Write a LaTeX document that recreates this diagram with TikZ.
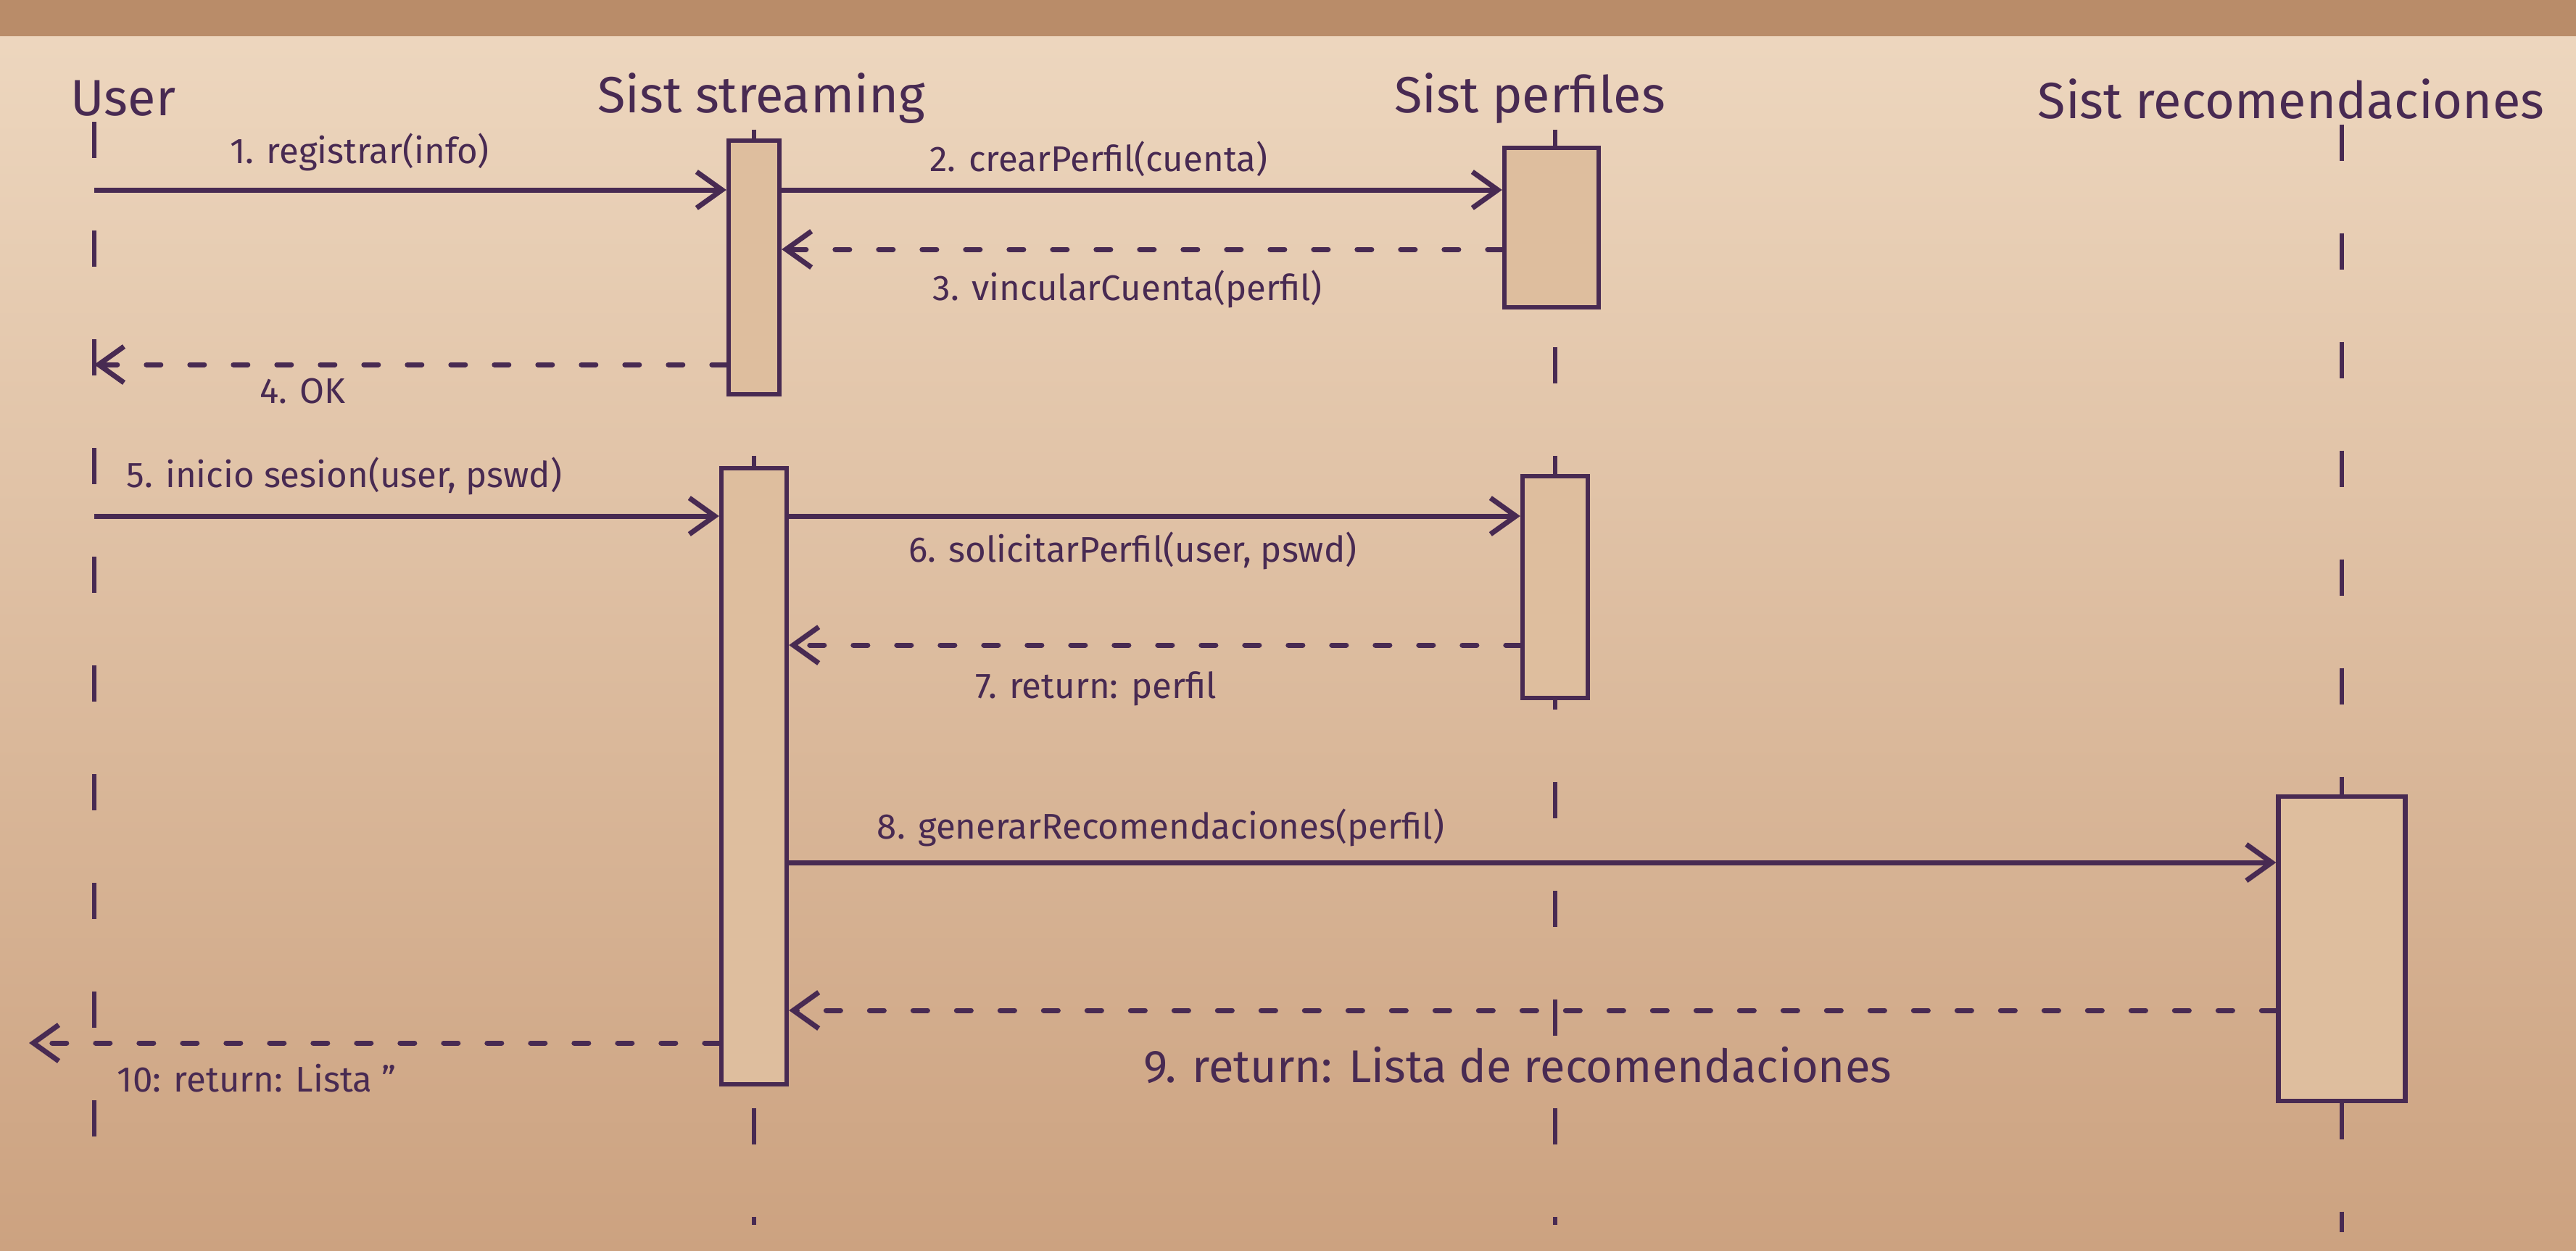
\documentclass[tikz,border=0pt]{standalone}
\usepackage{fontspec}
\setmainfont{Fira Sans}
\usepackage{xcolor}
\usepackage{tikz}
\usetikzlibrary{arrows.meta,positioning,calc}

\definecolor{board}{RGB}{222,190,158}
\definecolor{boardtop}{RGB}{238,216,192}
\definecolor{boardbot}{RGB}{204,162,128}
\definecolor{frame}{RGB}{185,140,105}
\definecolor{ink}{RGB}{72,42,82}

\begin{document}
\begin{tikzpicture}[
  actor/.style={font=\fontsize{20}{24}\selectfont, text=ink, inner sep=2pt},
  actbox/.style={draw=ink, line width=1.8pt, fill=board, inner sep=0pt},
  life/.style={draw=ink, line width=1.6pt, dash pattern=on 5mm off 10mm},
  msg/.style={-{Straight Barb[length=3.5mm,width=5mm]}, line width=2pt, ink},
  ret/.style={-{Straight Barb[length=3.5mm,width=5mm]}, line width=2pt, ink,
              dash pattern=on 2mm off 4mm, line cap=round},
  lbl/.style={font=\fontsize{14}{17}\selectfont, text=ink}
]

\shade[top color=boardtop, bottom color=boardbot] (0,0) rectangle (35.53,-17.25);
\fill[frame] (0,0) rectangle (35.53,-0.5);
\useasboundingbox (0,0) rectangle (35.53,-17.25);

\node[actor, anchor=west] (user) at (0.9,-1.36) {User};
\node[actor] (strm) at (10.5,-1.36) {Sist streaming};
\node[actor] (perf) at (21.1,-1.36) {Sist perfiles};
\node[actor] (reco) at (31.6,-1.36) {Sist recomendaciones};

\coordinate (uend) at (1.3,-16.0);
\coordinate (send) at (10.4,-16.9);
\coordinate (pend) at (21.45,-16.9);
\coordinate (rend) at (32.3,-17.0);

\draw[life] (user.south -| uend) -- (uend);
\draw[life] (strm.south -| send) -- (send);
\draw[life] (perf.south -| pend) -- (pend);
\draw[life] (reco.south -| rend) -- (rend);

\node[actbox, minimum width=0.7cm, minimum height=3.5cm] (s1) at (10.4,-3.69) {};
\node[actbox, minimum width=0.9cm, minimum height=8.5cm] (s2) at (10.4,-10.71) {};
\node[actbox, minimum width=1.3cm, minimum height=2.2cm] (p1) at (21.4,-3.14) {};
\node[actbox, minimum width=0.9cm, minimum height=3.06cm] (p2) at (21.45,-8.1) {};
\node[actbox, minimum width=1.75cm, minimum height=4.2cm] (r1) at (32.3,-13.09) {};

\coordinate (m1) at (0,-2.62);
\coordinate (m3) at (0,-3.44);
\coordinate (m4) at (0,-5.03);
\coordinate (m5) at (0,-7.12);
\coordinate (m7) at (0,-8.9);
\coordinate (m8) at (0,-11.9);
\coordinate (m9) at (0,-13.94);
\coordinate (m10) at (0,-14.39);

\draw[msg] (uend |- m1) -- node[lbl, above=3pt, pos=.42] {1. registrar(info)} (s1.west |- m1);
\draw[msg] (s1.east |- m1) -- node[lbl, above=1pt, pos=.44] {2. crearPerfil(cuenta)} (p1.west |- m1);
\draw[ret] (p1.west |- m3) -- node[lbl, below=4pt, pos=.52] {3. vincularCuenta(perfil)} (s1.east |- m3);
\draw[ret] (s1.west |- m4) -- node[lbl, below=1pt, pos=.67] {4. OK} (uend |- m4);

\draw[msg] (uend |- m5) -- node[lbl, above=4pt, pos=.4] {5. inicio sesion(user, pswd)} (s2.west |- m5);
\draw[msg] (s2.east |- m5) -- node[lbl, below=2pt, pos=.47] {6. solicitarPerfil(user, pswd)} (p2.west |- m5);
\draw[ret] (p2.west |- m7) -- node[lbl, below=6pt, pos=.58] {7. return: perfil} (s2.east |- m7);

\draw[msg] (s2.east |- m8) -- node[lbl, above=2pt, pos=.25] {8. generarRecomendaciones(perfil)} (r1.west |- m8);
\draw[ret] (r1.west |- m9) -- node[lbl, below=10pt, pos=.51, font=\fontsize{18}{21}\selectfont] {9. return: Lista de recomendaciones} (s2.east |- m9);
\draw[ret] (s2.west |- m10) -- node[lbl, below=4pt, pos=.67] {10: return: Lista ''} ($(uend |- m10)+(-0.9,0)$);

\end{tikzpicture}
\end{document}
